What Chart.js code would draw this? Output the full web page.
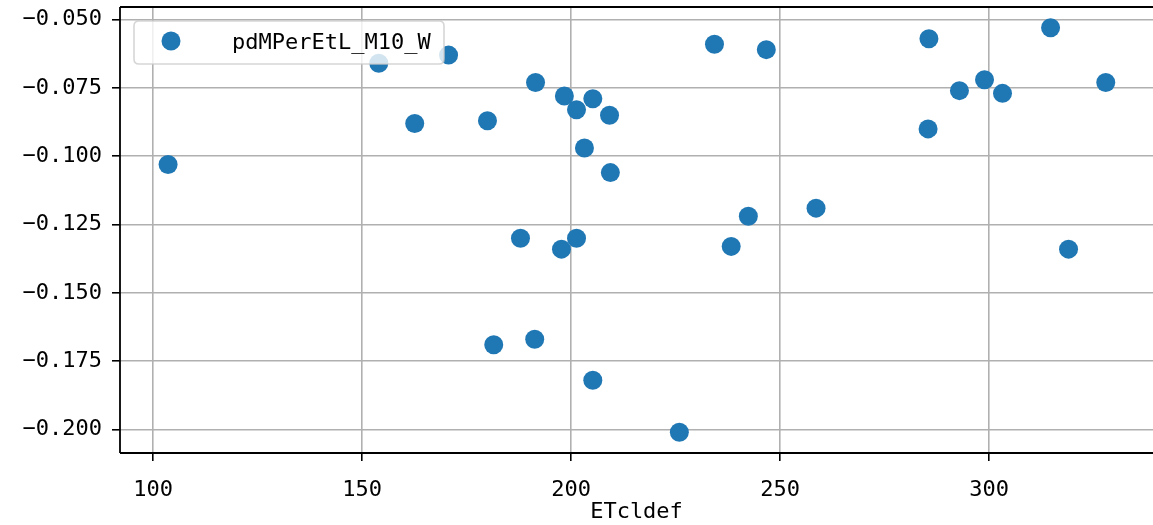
<!DOCTYPE html>
<html>
<head>
<meta charset="utf-8">
<script src="https://cdn.jsdelivr.net/npm/chart.js@4.4.0/dist/chart.umd.min.js"></script>
<style>
html,body{margin:0;padding:0;background:#fff;}
#wrap{width:1153px;height:525px;position:relative;}
</style>
</head>
<body>
<div id="wrap"><canvas id="c" width="1153" height="525"></canvas></div>
<script>
const seriesName = 'pdMPerEtL_M10_W';
const xLabel = 'ETcldef';
const xValues = [103.6,154.0,162.6,170.7,180.0,181.5,187.9,191.5,191.3,197.7,198.4,201.3,201.3,203.2,205.2,205.2,209.2,209.4,225.9,234.3,238.3,242.4,246.7,258.6,285.4,285.6,292.9,298.9,303.2,314.7,319.0,327.9];
const yValues = [-0.103,-0.066,-0.088,-0.063,-0.087,-0.169,-0.130,-0.073,-0.167,-0.134,-0.078,-0.083,-0.130,-0.097,-0.079,-0.182,-0.085,-0.106,-0.201,-0.059,-0.133,-0.122,-0.061,-0.119,-0.090,-0.057,-0.076,-0.072,-0.077,-0.053,-0.134,-0.073];
const xTicks = [100,150,200,250,300];
const yTicks = [-0.200,-0.175,-0.150,-0.125,-0.100,-0.075,-0.050];

const FONT = '"DejaVu Sans Mono", monospace';
const FS = 22;
const COLOR = '#1f77b4';

const points = xValues.map((x,i)=>({x:x,y:yValues[i]}));

const spinePlugin = {
  id:'spines',
  afterDatasetsDraw(chart){
    const {ctx, chartArea:a} = chart;
    ctx.save();
    // legend
    const lx = a.left+14, ly = a.top+14, lw = 310, lh = 43, r = 5;
    ctx.beginPath();
    ctx.moveTo(lx+r,ly);
    ctx.lineTo(lx+lw-r,ly); ctx.quadraticCurveTo(lx+lw,ly,lx+lw,ly+r);
    ctx.lineTo(lx+lw,ly+lh-r); ctx.quadraticCurveTo(lx+lw,ly+lh,lx+lw-r,ly+lh);
    ctx.lineTo(lx+r,ly+lh); ctx.quadraticCurveTo(lx,ly+lh,lx,ly+lh-r);
    ctx.lineTo(lx,ly+r); ctx.quadraticCurveTo(lx,ly,lx+r,ly);
    ctx.closePath();
    ctx.fillStyle='rgba(255,255,255,0.8)';
    ctx.fill();
    ctx.strokeStyle='rgba(204,204,204,0.8)';
    ctx.lineWidth=1.6;
    ctx.stroke();
    ctx.beginPath();
    ctx.arc(171, ly+20, 9.5, 0, Math.PI*2);
    ctx.fillStyle=COLOR;
    ctx.fill();
    ctx.fillStyle='#000';
    ctx.font = FS+'px '+FONT;
    ctx.textBaseline='middle';
    ctx.textAlign='left';
    ctx.fillText(chart.data.datasets[0].label, 232, ly+22);
    // spines
    ctx.strokeStyle='#000';
    ctx.lineWidth=1.8;
    ctx.beginPath();
    ctx.moveTo(a.left, a.top); ctx.lineTo(a.right, a.top);
    ctx.moveTo(a.left, a.top); ctx.lineTo(a.left, a.bottom);
    ctx.moveTo(a.left, a.bottom); ctx.lineTo(a.right, a.bottom);
    ctx.stroke();
    ctx.restore();
  }
};

new Chart(document.getElementById('c'), {
  type:'scatter',
  data:{datasets:[{label:seriesName, data:points, backgroundColor:COLOR, borderWidth:0, pointRadius:9.5, pointHoverRadius:9.5}]},
  options:{
    responsive:false, animation:false, devicePixelRatio:1,
    layout:{autoPadding:false, padding:{top:7,right:0,left:0,bottom:0}},
    plugins:{legend:{display:false}, tooltip:{enabled:false}},
    scales:{
      x:{type:'linear', min:92.1, max:339.2,
        afterFit(s){ s.height = 72; s.paddingLeft=0; s.paddingRight=0; s.paddingTop=0; s.paddingBottom=0; },
        afterBuildTicks(s){ s.ticks = xTicks.map(v=>({value:v})); },
        grid:{color:'#b0b0b0', lineWidth:1.6, tickColor:'#000', tickLength:8, tickWidth:1.6},
        border:{display:false},
        ticks:{font:{family:FONT,size:FS}, color:'#000', padding:16, maxRotation:0, callback:v=>String(v)},
        title:{display:true, text:xLabel, font:{family:FONT,size:FS}, color:'#000', padding:{top:1,bottom:0}}
      },
      y:{type:'linear', min:-0.2086, max:-0.0454,
        afterFit(s){ s.width = 120; s.paddingTop=0; s.paddingBottom=0; s.paddingLeft=0; s.paddingRight=0; },
        afterBuildTicks(s){ s.ticks = yTicks.map(v=>({value:v})); },
        grid:{color:'#b0b0b0', lineWidth:1.6, tickColor:'#000', tickLength:8, tickWidth:1.6},
        border:{display:false},
        ticks:{font:{family:FONT,size:FS}, color:'#000', padding:10, callback:v=>'\u2212'+Math.abs(v).toFixed(3)}
      }
    }
  },
  plugins:[spinePlugin]
});
</script>
</body>
</html>
